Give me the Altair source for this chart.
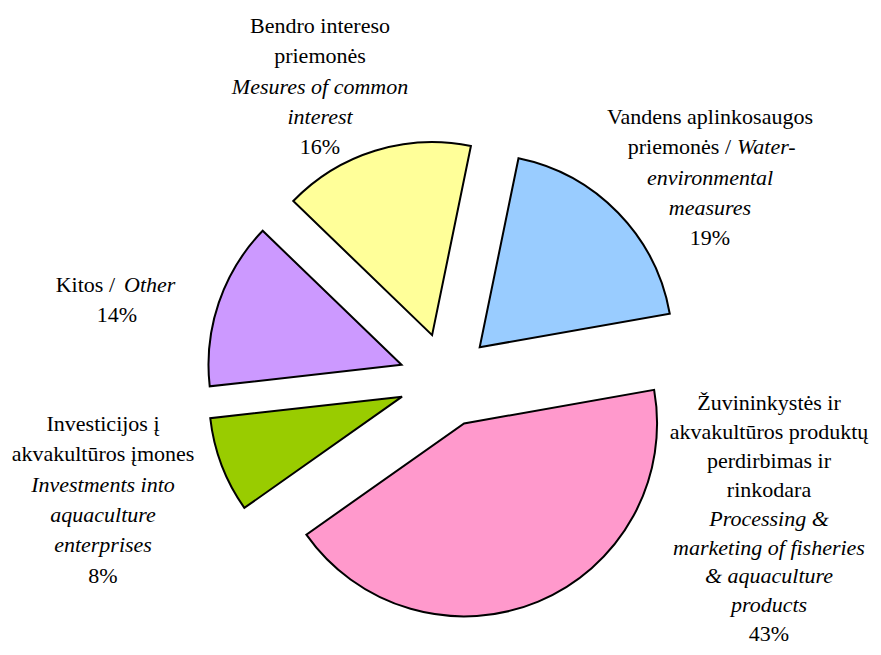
import math
import altair as alt
import pandas as pd

# ---------------- data ----------------
categories = ["water", "processing", "investments", "other", "common"]
shares = [19, 43, 8, 14, 16]
colors = ["#99CCFF", "#FF99CC", "#99CC00", "#CC99FF", "#FFFF99"]

# label lines per slice: each line is a list of (text, italic) segments
label_lines = {
    "water": [[("Vandens aplinkosaugos", False)],
              [("priemonės /", False), ("Water-", True)],
              [("environmental", True)],
              [("measures", True)]],
    "processing": [[("Žuvininkystės ir", False)],
                   [("akvakultūros produktų", False)],
                   [("perdirbimas ir", False)],
                   [("rinkodara", False)],
                   [("Processing &", True)],
                   [("marketing of fisheries", True)],
                   [("& aquaculture", True)],
                   [("products", True)]],
    "investments": [[("Investicijos į", False)],
                    [("akvakultūros įmones", False)],
                    [("Investments into", True)],
                    [("aquaculture", True)],
                    [("enterprises", True)]],
    "other": [[("Kitos /", False), ("Other", True)]],
    "common": [[("Bendro intereso", False)],
               [("priemonės", False)],
               [("Mesures of common", True)],
               [("interest", True)]],
}

# ---------------- layout ----------------
W, H = 862, 639
CX, CY = 438, 372          # pie centre (px)
R = 193                    # pie radius (px)
EXPLODE = 47               # explode distance (px)
START = math.radians(11.6) # first slice start angle
FONT = "Liberation Serif"
FS = 22
label_anchor = {           # centre x, first line centre y, line height
    "water": (702, 109, 30.25),
    "processing": (761, 395, 28.9),
    "investments": (95, 416, 30.3),
    "other": (109, 277, 30.0),
    "common": (312, 18, 30.25),
}
mixed_split = {            # right end of regular part, left start of italic part
    "water": (723, 729),
    "other": (107, 116),
}

# ---------------- tables ----------------
pie_df = pd.DataFrame({"cat": categories, "share": shares,
                       "order": list(range(len(categories)))})

rows = []
for cat, v in zip(categories, shares):
    lines = label_lines[cat] + [[(f"{v}%", False)]]
    ax, ay, lh = label_anchor[cat]
    for i, segs in enumerate(lines):
        y = ay + i * lh
        if len(segs) == 1:
            t, it = segs[0]
            rows.append({"text": t, "x": ax, "y": y,
                         "kind": "c-i" if it else "c-n"})
        else:
            (t1, _), (t2, _) = segs
            sx1, sx2 = mixed_split[cat]
            rows.append({"text": t1, "x": sx1, "y": y, "kind": "r-n"})
            rows.append({"text": t2, "x": sx2, "y": y, "kind": "l-i"})
lab_df = pd.DataFrame(rows)

TAU = 2 * math.pi
pie = (
    alt.Chart(pie_df)
    .transform_joinaggregate(total="sum(share)")
    .transform_window(cum="sum(share)", sort=[alt.SortField("order")],
                      frame=[None, 0])
    .transform_calculate(
        t0=f"{START} + {TAU} * (datum.cum - datum.share) / datum.total",
        t1=f"{START} + {TAU} * datum.cum / datum.total",
    )
    .transform_calculate(mid="(datum.t0 + datum.t1) / 2")
    .transform_calculate(
        px=f"{CX} + {EXPLODE} * sin(datum.mid)",
        py=f"{CY} - {EXPLODE} * cos(datum.mid)",
    )
    .mark_arc(outerRadius=R, stroke="black", strokeWidth=2)
    .encode(
        theta=alt.Theta("t0:Q", scale=None),
        theta2="t1:Q",
        x=alt.X("px:Q", scale=None, axis=None),
        y=alt.Y("py:Q", scale=None, axis=None),
        fill=alt.Fill("cat:N", scale=alt.Scale(domain=categories, range=colors),
                      legend=None),
    )
)

layers = [pie]
for kind, align, style in [("c-n", "center", "normal"), ("c-i", "center", "italic"),
                           ("r-n", "right", "normal"), ("l-i", "left", "italic")]:
    layers.append(
        alt.Chart(lab_df)
        .transform_filter(alt.datum.kind == kind)
        .mark_text(font=FONT, fontSize=FS, fontStyle=style, align=align,
                   baseline="middle", color="black")
        .encode(x=alt.X("x:Q", scale=None, axis=None),
                y=alt.Y("y:Q", scale=None, axis=None),
                text="text:N")
    )

chart = (
    alt.layer(*layers)
    .properties(width=W, height=H, padding=0,
                autosize=alt.AutoSizeParams(type="none"))
    .configure_view(stroke=None)
)

chart.save("out.html", embed_options={"renderer": "svg", "actions": False})
